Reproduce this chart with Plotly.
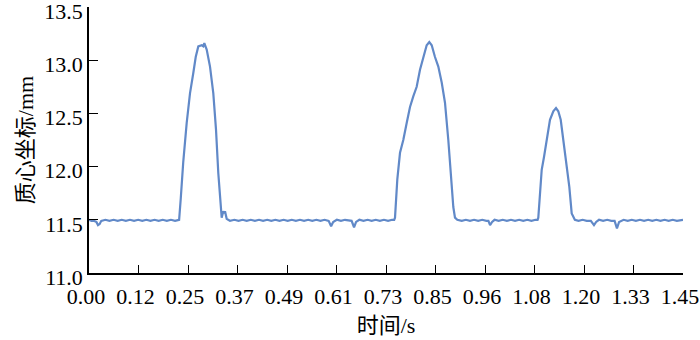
import plotly.graph_objects as go

# time (s) and centroid coordinate (mm)
time_s = [
    0.000, 0.006, 0.012, 0.018, 0.022, 0.026, 0.030, 0.040, 0.050, 0.060,
    0.070, 0.080, 0.090, 0.100, 0.110, 0.120, 0.130, 0.140, 0.150, 0.160,
    0.170, 0.180, 0.190, 0.200, 0.210, 0.220,
    0.224, 0.228, 0.230, 0.2385, 0.2466, 0.2546, 0.2605, 0.2668, 0.2751, 0.2790,
    0.2815, 0.2873, 0.2954, 0.3034, 0.3100, 0.3156, 0.3215, 0.3239, 0.3278, 0.3300,
    0.3320, 0.3361, 0.3400, 0.3442,
    0.355, 0.365, 0.375, 0.385, 0.395, 0.405, 0.415, 0.425, 0.435, 0.445,
    0.455, 0.465, 0.475, 0.485, 0.495, 0.505, 0.515, 0.525, 0.535, 0.545,
    0.555, 0.565, 0.575, 0.585, 0.591, 0.596, 0.605, 0.615, 0.625, 0.635,
    0.641, 0.647, 0.652, 0.660, 0.670, 0.680, 0.690, 0.700, 0.710, 0.720,
    0.730, 0.740, 0.745,
    0.7470, 0.7526, 0.7592, 0.7672, 0.7755, 0.7836, 0.7916, 0.7999, 0.8080, 0.8160,
    0.8243, 0.8307, 0.8366, 0.8446, 0.8527, 0.8610, 0.8690, 0.8771, 0.8837, 0.8893,
    0.8934, 0.8990,
    0.910, 0.920, 0.930, 0.940, 0.950, 0.960, 0.970, 0.975, 0.979, 0.984,
    0.990, 1.000, 1.010, 1.020, 1.030, 1.040, 1.050, 1.060, 1.070, 1.080,
    1.090, 1.0950,
    1.0968, 1.1009, 1.1051, 1.1107, 1.1173, 1.1253, 1.1334, 1.1400, 1.1456, 1.1515,
    1.1578, 1.1661, 1.1725, 1.1783, 1.1822, 1.1860,
    1.195, 1.205, 1.215, 1.225, 1.2327, 1.238, 1.245, 1.255, 1.265, 1.275,
    1.283, 1.2888, 1.294, 1.305, 1.315, 1.325, 1.335, 1.345, 1.355, 1.365,
    1.375, 1.385, 1.395, 1.405, 1.415, 1.425, 1.435, 1.450,
]
centroid_mm = [
    11.50, 11.49, 11.49, 11.48, 11.45, 11.46, 11.49, 11.50, 11.49, 11.50,
    11.49, 11.50, 11.49, 11.50, 11.49, 11.50, 11.49, 11.50, 11.49, 11.50,
    11.49, 11.50, 11.49, 11.50, 11.49, 11.50,
    11.70, 11.95, 12.04, 12.41, 12.69, 12.88, 13.03, 13.13, 13.14, 13.13,
    13.16, 13.10, 12.94, 12.69, 12.35, 11.94, 11.59, 11.52, 11.58, 11.56,
    11.58, 11.51, 11.50, 11.49,
    11.50, 11.49, 11.50, 11.49, 11.50, 11.49, 11.50, 11.49, 11.50, 11.49,
    11.50, 11.49, 11.50, 11.49, 11.50, 11.49, 11.50, 11.49, 11.50, 11.49,
    11.50, 11.49, 11.50, 11.49, 11.44, 11.48, 11.50, 11.49, 11.50, 11.49,
    11.49, 11.43, 11.48, 11.50, 11.49, 11.50, 11.49, 11.50, 11.49, 11.50,
    11.49, 11.50, 11.50,
    11.52, 11.88, 12.13, 12.25, 12.41, 12.56, 12.66, 12.75, 12.91, 13.03,
    13.14, 13.17, 13.14, 13.03, 12.94, 12.79, 12.60, 12.25, 11.91, 11.62,
    11.52, 11.50,
    11.49, 11.50, 11.49, 11.50, 11.49, 11.50, 11.49, 11.49, 11.45, 11.48,
    11.50, 11.49, 11.50, 11.49, 11.50, 11.49, 11.50, 11.49, 11.50, 11.49,
    11.50, 11.50,
    11.52, 11.72, 11.97, 12.09, 12.25, 12.44, 12.52, 12.55, 12.52, 12.44,
    12.25, 12.00, 11.81, 11.56, 11.52, 11.50,
    11.49, 11.50, 11.49, 11.49, 11.45, 11.48, 11.50, 11.49, 11.50, 11.49,
    11.49, 11.42, 11.48, 11.50, 11.49, 11.50, 11.49, 11.50, 11.49, 11.50,
    11.49, 11.50, 11.49, 11.50, 11.49, 11.50, 11.49, 11.50,
]

x_tick_labels = ["0.00", "0.12", "0.25", "0.37", "0.49", "0.61", "0.73",
                 "0.85", "0.96", "1.08", "1.20", "1.33", "1.45"]
y_tick_vals = [11.0, 11.5, 12.0, 12.5, 13.0, 13.5]
y_tick_labels = ["11.0", "11.5", "12.0", "12.5", "13.0", "13.5"]
x_max = 1.45
x_tick_vals = [x_max * i / (len(x_tick_labels) - 1) for i in range(len(x_tick_labels))]

FONT = "Liberation Serif, Times New Roman, Noto Sans CJK SC, serif"
FS = 22

fig = go.Figure()
fig.add_trace(go.Scatter(
    x=time_s, y=centroid_mm, mode="lines",
    line=dict(color="#6189c8", width=2.2),
    showlegend=False, cliponaxis=False,
))

fig.update_layout(
    width=700, height=340,
    margin=dict(l=89, r=17, t=7, b=67, autoexpand=False),
    paper_bgcolor="white", plot_bgcolor="white",
    font=dict(family=FONT, size=FS, color="black"),
)
fig.update_xaxes(
    range=[0, x_max], tickvals=x_tick_vals, ticktext=x_tick_labels,
    showline=True, linecolor="black", linewidth=1.5,
    ticks="inside", ticklen=8, tickwidth=1.2, tickcolor="black",
    showgrid=False, zeroline=False, automargin=False,
    ticklabeloverflow="allow", ticklabelstandoff=3, ticklabelshift=-3,
    title=dict(text="时间/s", font=dict(family=FONT, size=FS), standoff=9),
    tickfont=dict(family=FONT, size=FS),
)
fig.update_yaxes(
    range=[11.0, 13.5], tickvals=y_tick_vals, ticktext=y_tick_labels,
    showline=True, linecolor="black", linewidth=1.5,
    ticks="inside", ticklen=9, tickwidth=1.2, tickcolor="black",
    showgrid=False, zeroline=False, automargin=False,
    ticklabeloverflow="allow", ticklabelshift=4,
    title=dict(text="质心坐标/mm", font=dict(family=FONT, size=FS), standoff=5),
    tickfont=dict(family=FONT, size=FS),
)

fig.write_html("out.html", config={"displayModeBar": False},
               post_script="document.body.style.margin='0px';")
